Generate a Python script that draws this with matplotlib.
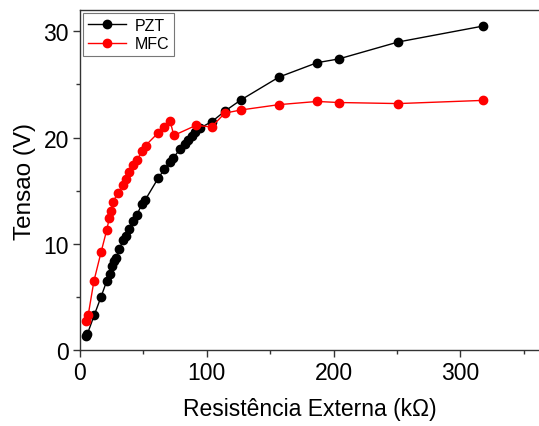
import matplotlib
matplotlib.use("Agg")
import matplotlib.pyplot as plt
from matplotlib.ticker import MultipleLocator

plt.rcParams['font.family'] = ['Liberation Sans', 'DejaVu Sans']

# External load resistance (kOhm) and output voltage (V)
pzt_r = [4.7, 5.8, 11.3, 16.6, 21.1, 23.7, 25.0, 27.1, 28.4, 31.0, 34.2, 36.3,
         38.9, 41.6, 44.8, 48.7, 51.3, 61.8, 66.5, 71.0, 73.6, 78.9, 82.9, 85.5,
         88.2, 90.8, 94.7, 104, 114.4, 127, 157, 187, 204, 251, 318]
pzt_v = [1.35, 1.5, 3.3, 5.0, 6.5, 7.2, 7.95, 8.4, 8.65, 9.5, 10.4, 10.7,
         11.4, 12.1, 12.7, 13.7, 14.1, 16.2, 17.0, 17.7, 18.1, 18.9, 19.4, 19.75,
         20.1, 20.5, 20.9, 21.5, 22.5, 23.55, 25.7, 27.05, 27.4, 29.0, 30.5]

mfc_r = [4.7, 6.5, 11.0, 16.6, 21.1, 23.1, 24.2, 25.8, 30.0, 33.7, 35.9, 39.0,
         41.8, 45.0, 48.9, 51.7, 61.3, 66.5, 71.0, 74.0, 91.5, 103.8, 114.2,
         127, 157, 187, 204, 251, 318]
mfc_v = [2.75, 3.3, 6.5, 9.2, 11.3, 12.4, 13.1, 13.9, 14.8, 15.5, 16.1, 16.8,
         17.4, 17.9, 18.7, 19.25, 20.4, 21.0, 21.6, 20.2, 21.15, 21.0, 22.3,
         22.6, 23.1, 23.4, 23.3, 23.2, 23.5]

fig = plt.figure(figsize=(5.39, 4.27), dpi=100)
ax = fig.add_axes([0.1484, 0.178, 0.8516, 0.796])

ax.plot(pzt_r, pzt_v, color='black', lw=1.0, marker='o', ms=6, label='PZT')
ax.plot(mfc_r, mfc_v, color='red', lw=1.0, marker='o', ms=6, label='MFC')

ax.set_xlim(0, 362)
ax.set_ylim(0, 32)
ax.xaxis.set_major_locator(MultipleLocator(100))
ax.xaxis.set_minor_locator(MultipleLocator(50))
ax.yaxis.set_major_locator(MultipleLocator(10))
ax.yaxis.set_minor_locator(MultipleLocator(5))

for s in ax.spines.values():
    s.set_color('#333333')
    s.set_linewidth(1.0)
ax.spines['right'].set_visible(False)

ax.tick_params(which='major', direction='out', length=5, width=1,
               labelsize=16.5, colors='#333333', labelcolor='black', pad=3)
ax.tick_params(which='minor', direction='out', length=3, width=1, colors='#333333')

ax.set_xlabel('Resistência Externa (kΩ)', fontsize=16.5, labelpad=9)
ax.set_ylabel('Tensao (V)', fontsize=17.5, labelpad=5)

leg = ax.legend(loc='upper left', fontsize=11.5, frameon=True, fancybox=False,
                edgecolor='#555555', borderaxespad=0.2, handlelength=2.4,
                handletextpad=0.5, borderpad=0.3, labelspacing=0.2)
leg.get_frame().set_linewidth(0.8)

fig.savefig('out.png', dpi=100)
